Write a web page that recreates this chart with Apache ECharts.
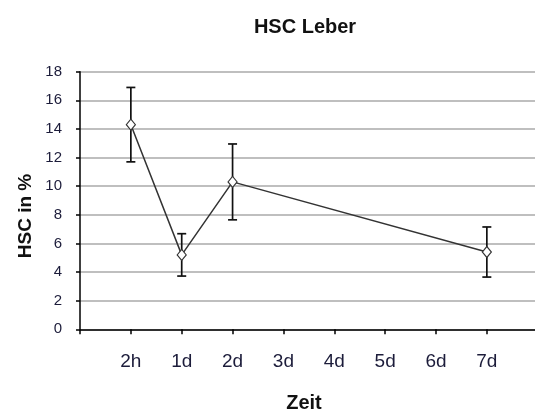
<!DOCTYPE html>
<html>
<head>
<meta charset="utf-8">
<title>HSC Leber</title>
<script src="https://cdn.jsdelivr.net/npm/echarts@6/dist/echarts.min.js"></script>
<style>
  html, body { margin: 0; padding: 0; background: #fff; }
  #chart { width: 535px; height: 414px; }
</style>
</head>
<body>
<div id="chart"></div>
<script>
// Time axis slots (empty slot before the first and after the last label)
var timeSlots = ['', '2h', '1d', '2d', '3d', '4d', '5d', '6d', '7d', ''];
// Measured time points, mean HSC share (%) and error (±)
var timepoints = ['2h', '1d', '2d', '7d'];
var hscMean = [14.3, 5.2, 10.3, 5.4];
var hscError = [2.6, 1.48, 2.65, 1.75];
// Value axis ticks
var yTicks = [0, 2, 4, 6, 8, 10, 12, 14, 16, 18];

var FONT = '"Liberation Sans", Arial, sans-serif';
var LABEL_COLOR = '#1c1c3a';

var lineData = timepoints.map(function (t, i) { return [t, hscMean[i]]; });
var errData = timepoints.map(function (t, i) {
  return [t, hscMean[i] - hscError[i], hscMean[i] + hscError[i]];
});

var chart = echarts.init(document.getElementById('chart'), null, { renderer: 'canvas' });

chart.setOption({
  animation: false,
  backgroundColor: '#ffffff',
  title: {
    text: 'HSC Leber',
    left: 300,
    top: 12,
    textAlign: 'center',
    textStyle: { fontFamily: FONT, fontSize: 20, fontWeight: 'bold', color: '#111' }
  },
  grid: {
    left: 80, top: 71.7, right: -2.7, bottom: 84.7,
    containLabel: false,
    outerBoundsMode: 'none'
  },
  xAxis: {
    type: 'category',
    data: timeSlots,
    boundaryGap: false,
    axisLine: { lineStyle: { color: '#000', width: 1.5 } },
    axisTick: { show: true, length: 5, interval: 0, lineStyle: { color: '#000', width: 1.5 } },
    axisLabel: { interval: 0, margin: 23, fontFamily: FONT, fontSize: 19, color: LABEL_COLOR },
    splitLine: { show: false }
  },
  yAxis: {
    type: 'value',
    min: yTicks[0],
    max: yTicks[yTicks.length - 1],
    interval: yTicks[1] - yTicks[0],
    axisLine: { show: true, lineStyle: { color: '#000', width: 1.5 } },
    axisTick: { show: true, length: 4, lineStyle: { color: '#000', width: 1.5 } },
    axisLabel: { margin: 18, fontFamily: FONT, fontSize: 15, color: LABEL_COLOR },
    splitLine: { show: true, lineStyle: { color: '#aaaaaa', width: 1.5 } }
  },
  graphic: [
    {
      type: 'text',
      x: 26, y: 216,
      rotation: Math.PI / 2,
      style: {
        text: 'HSC in %',
        font: 'bold 19px ' + FONT,
        fill: '#111',
        textAlign: 'center',
        textVerticalAlign: 'middle'
      }
    },
    {
      type: 'text',
      x: 304, y: 403,
      style: {
        text: 'Zeit',
        font: 'bold 20px ' + FONT,
        fill: '#111',
        textAlign: 'center',
        textVerticalAlign: 'middle'
      }
    }
  ],
  series: [
    {
      type: 'custom',
      name: 'Fehler',
      z: 3,
      renderItem: function (params, api) {
        var x = api.value(0);
        var lo = api.coord([x, api.value(1)]);
        var hi = api.coord([x, api.value(2)]);
        var half = 4.5;
        var st = { stroke: '#111', lineWidth: 1.7 };
        return {
          type: 'group',
          children: [
            { type: 'line', shape: { x1: hi[0], y1: hi[1], x2: lo[0], y2: lo[1] }, style: st },
            { type: 'line', shape: { x1: hi[0] - half, y1: hi[1], x2: hi[0] + half, y2: hi[1] }, style: st },
            { type: 'line', shape: { x1: lo[0] - half, y1: lo[1], x2: lo[0] + half, y2: lo[1] }, style: st }
          ]
        };
      },
      encode: { x: 0, y: [1, 2] },
      data: errData
    },
    {
      type: 'line',
      name: 'HSC',
      z: 4,
      data: lineData,
      symbol: 'diamond',
      symbolSize: [9, 11],
      showAllSymbol: true,
      lineStyle: { color: '#333', width: 1.5 },
      itemStyle: { color: '#fff', borderColor: '#333', borderWidth: 1.2 }
    }
  ]
});
</script>
</body>
</html>
